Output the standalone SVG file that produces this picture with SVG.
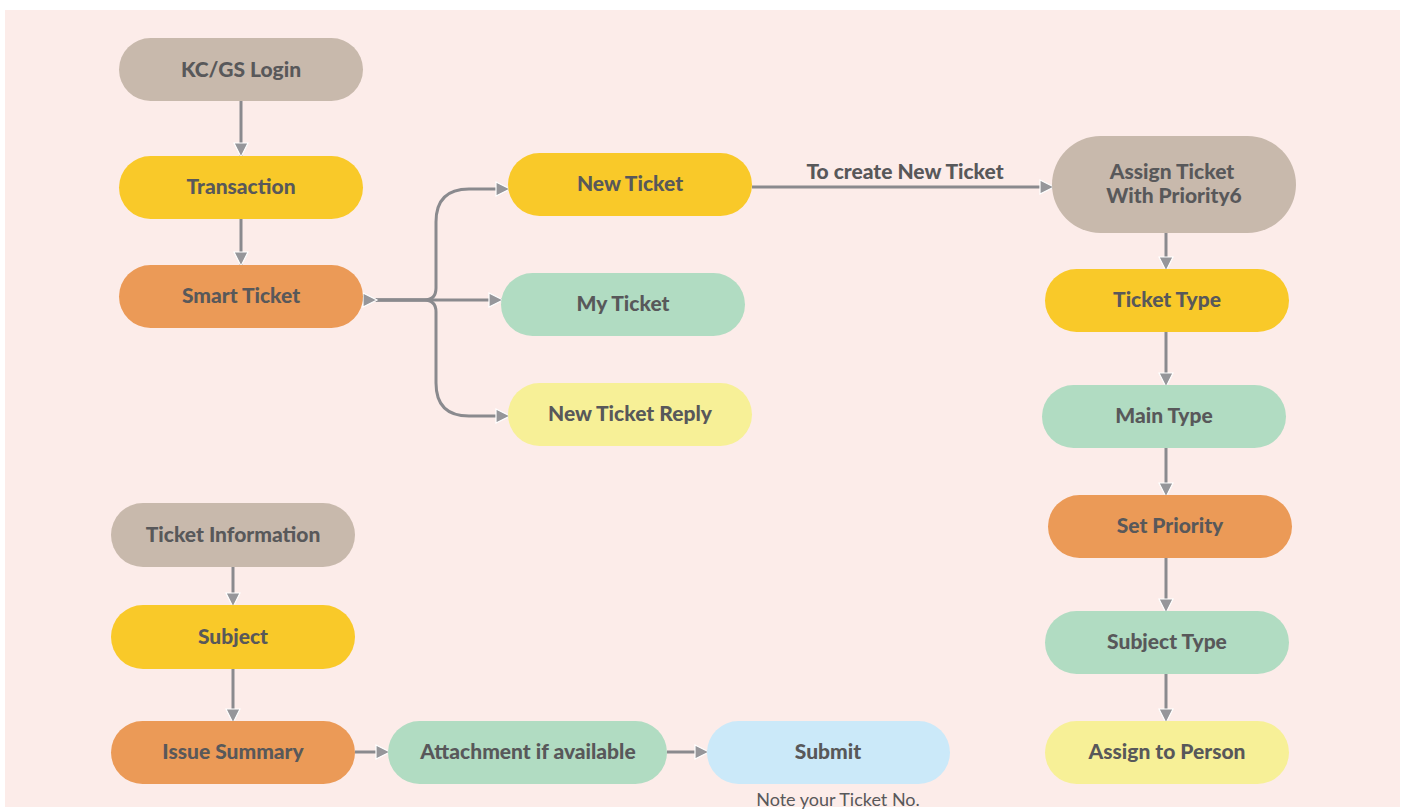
<svg xmlns="http://www.w3.org/2000/svg" width="1405" height="810" viewBox="0 0 1405 810">
<defs>
<style>
.n rect{stroke:none}
.n text{font-family:Lato,"Liberation Sans",sans-serif;font-weight:900;font-size:21px;fill:#58585a;text-anchor:middle}
.c path{fill:none;stroke:#8a8a8e;stroke-width:3}
.lbl{font-family:Lato,"Liberation Sans",sans-serif;font-weight:900;font-size:21px;fill:#58585a;text-anchor:middle}
.note{font-family:Lato,"Liberation Sans",sans-serif;font-size:18px;fill:#58585a;text-anchor:middle}
.g{fill:#c8b9ac}.y{fill:#f9c929}.o{fill:#eb9a57}.m{fill:#b1dcc2}.ly{fill:#f7f097}.b{fill:#cbe9f9}
</style>
<marker id="ah" markerUnits="userSpaceOnUse" markerWidth="18" markerHeight="18" viewBox="0 0 18 18" refX="16" refY="9" orient="auto">
<path d="M2,2 L16,9 L2,16 Z" fill="#96969a" stroke="#ffffff" stroke-width="1.2"/>
</marker>
</defs>
<rect x="0" y="0" width="1405" height="810" fill="#ffffff"/>
<rect x="5" y="10" width="1395" height="797" fill="#fcece9"/>

<g class="c" id="connectors">
<path d="M241,101 V157" marker-end="url(#ah)"/>
<path d="M241,219 V266" marker-end="url(#ah)"/>
<path d="M376,300 H424 Q436,300 436,288 V222 Q436,189 469,189 H510" marker-end="url(#ah)"/>
<path d="M376,300 H503" marker-end="url(#ah)"/>
<path d="M376,300 H424 Q436,300 436,312 V383 Q436,416 469,416 H510" marker-end="url(#ah)"/>
<path d="M360,300 H377" marker-end="url(#ah)"/>
<path d="M752,187 H1054" marker-end="url(#ah)"/>
<path d="M1166,233 V271" marker-end="url(#ah)"/>
<path d="M1166,332 V387" marker-end="url(#ah)"/>
<path d="M1166,448 V497" marker-end="url(#ah)"/>
<path d="M1166,558 V613" marker-end="url(#ah)"/>
<path d="M1166,674 V723" marker-end="url(#ah)"/>
<path d="M233,567 V607" marker-end="url(#ah)"/>
<path d="M233,669 V723" marker-end="url(#ah)"/>
<path d="M355,752 H390" marker-end="url(#ah)"/>
<path d="M667,752 H709" marker-end="url(#ah)"/>
<text class="lbl" x="905" y="179">To create New Ticket</text>
</g>

<g class="n" id="kcgs"><rect class="g" x="119" y="38" width="244" height="63" rx="31.5"/><text x="241" y="77">KC/GS Login</text></g>
<g class="n" id="transaction"><rect class="y" x="119" y="156" width="244" height="63" rx="31.5"/><text x="241" y="194">Transaction</text></g>
<g class="n" id="smart"><rect class="o" x="119" y="265" width="244" height="63" rx="31.5"/><text x="241" y="303">Smart Ticket</text></g>
<g class="n" id="newticket"><rect class="y" x="508" y="153" width="244" height="63" rx="31.5"/><text x="630" y="191">New Ticket</text></g>
<g class="n" id="myticket"><rect class="m" x="501" y="273" width="244" height="63" rx="31.5"/><text x="623" y="311">My Ticket</text></g>
<g class="n" id="reply"><rect class="ly" x="508" y="383" width="244" height="63" rx="31.5"/><text x="630" y="421">New Ticket Reply</text></g>
<g class="n" id="assign"><rect class="g" x="1052" y="136" width="244" height="97" rx="48.5"/><text x="1172" y="179">Assign Ticket</text><text x="1174" y="203">With Priority6</text></g>
<g class="n" id="tickettype"><rect class="y" x="1045" y="269" width="244" height="63" rx="31.5"/><text x="1167" y="307">Ticket Type</text></g>
<g class="n" id="maintype"><rect class="m" x="1042" y="385" width="244" height="63" rx="31.5"/><text x="1164" y="423">Main Type</text></g>
<g class="n" id="setpriority"><rect class="o" x="1048" y="495" width="244" height="63" rx="31.5"/><text x="1170" y="533">Set Priority</text></g>
<g class="n" id="subjecttype"><rect class="m" x="1045" y="611" width="244" height="63" rx="31.5"/><text x="1167" y="649">Subject Type</text></g>
<g class="n" id="assignperson"><rect class="ly" x="1045" y="721" width="244" height="63" rx="31.5"/><text x="1167" y="759">Assign to Person</text></g>
<g class="n" id="ticketinfo"><rect class="g" x="111" y="503" width="244" height="64" rx="32"/><text x="233" y="542">Ticket Information</text></g>
<g class="n" id="subject"><rect class="y" x="111" y="605" width="244" height="64" rx="32"/><text x="233" y="644">Subject</text></g>
<g class="n" id="issue"><rect class="o" x="111" y="721" width="244" height="63" rx="31.5"/><text x="233" y="759">Issue Summary</text></g>
<g class="n" id="attach"><rect class="m" x="388" y="721" width="279" height="63" rx="31.5"/><text x="528" y="759">Attachment if available</text></g>
<g class="n" id="submit"><rect class="b" x="707" y="721" width="243" height="63" rx="31.5"/><text x="828" y="759">Submit</text></g>
<text class="note" x="838" y="806">Note your Ticket No.</text>
</svg>
